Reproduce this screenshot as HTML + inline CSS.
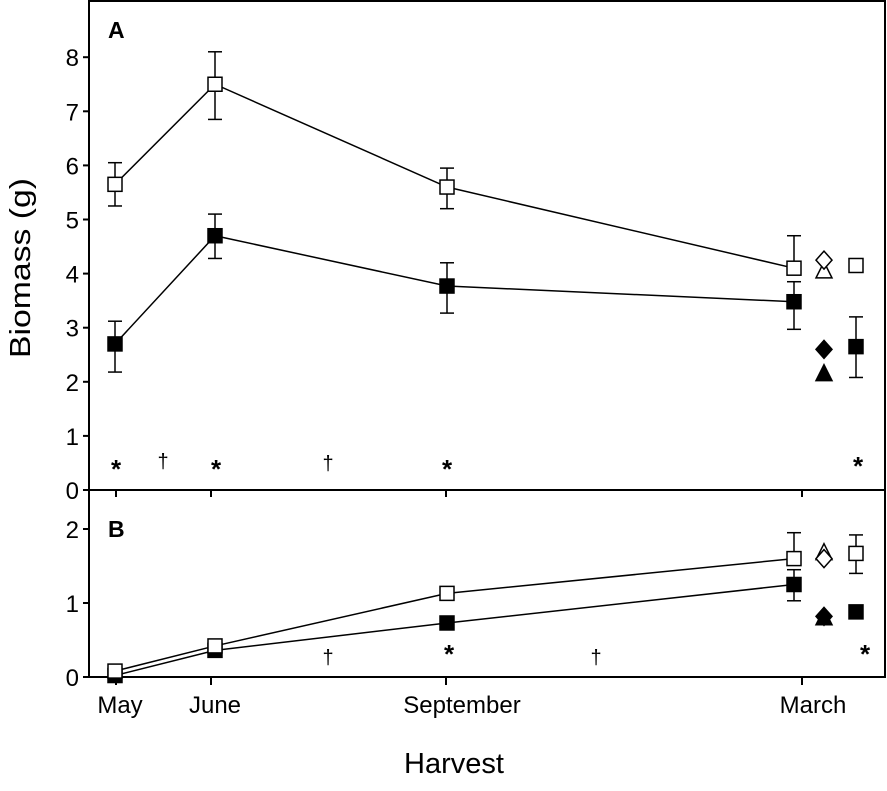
<!DOCTYPE html><html><head><style>body{margin:0;background:#fff}svg{font-family:"Liberation Sans",sans-serif}</style></head><body>
<svg width="887" height="786">
<g id="g"></g></svg>
<script>
const months=["May","June","September","March"];
const monthX=[115,215,447,794];
const aOpen=[5.65,7.5,5.6,4.1];const aOpenHi=[6.05,8.1,5.95,4.7];const aOpenLo=[5.25,6.85,5.2,4.1];
const aFill=[2.7,4.7,3.77,3.48];const aFillHi=[3.12,5.1,4.2,3.85];const aFillLo=[2.18,4.28,3.27,2.97];
const aExtraOpen=[4.25,4.05,4.15];const aExtraFill=[2.6,2.15,2.65];const aExtraFillHi=[3.2];const aExtraFillLo=[2.08];
const bOpen=[0.08,0.42,1.13,1.6];const bOpenHi=[0.08,0.42,1.18,1.95];const bOpenLo=[0.08,0.42,1.08,1.6];
const bFill=[0.02,0.36,0.73,1.25];const bFillHi=[0.02,0.36,0.73,1.45];const bFillLo=[0.02,0.36,0.73,1.03];
const bExtraOpen=[1.6,1.68,1.67];const bExtraFill=[0.82,0.8,0.88];const bExtraOpenHi=[1.92];const bExtraOpenLo=[1.4];
const aTicks=[0,1,2,3,4,5,6,7,8];const bTicks=[0,1,2];
const NS="http://www.w3.org/2000/svg",G=document.getElementById('g');
function el(t,a,name,txt){const e=document.createElementNS(NS,t);for(const k in a)e.setAttribute(k,a[k]);


if(txt!=null)e.textContent=txt;G.appendChild(e);return e;}
const yA=v=>490-54.1*v, yB=v=>677-74*v;
const X0=89,X1=885,xD=824,xS=856;
el('rect',{x:X0,y:1,width:X1-X0,height:676,fill:'none',stroke:'#000','stroke-width':2},'plot-frame');
el('line',{x1:X0,x2:X1,y1:490,y2:490,stroke:'#000','stroke-width':2},'panel-divider');
aTicks.forEach(t=>{el('line',{x1:X0-6,x2:X0,y1:yA(t),y2:yA(t),stroke:'#000','stroke-width':2},'y-tick-a');
el('text',{x:X0-10,y:yA(t)+9,'text-anchor':'end','font-size':24},'y-tick-label-a',t);});
bTicks.forEach(t=>{el('line',{x1:X0-6,x2:X0,y1:yB(t),y2:yB(t),stroke:'#000','stroke-width':2},'y-tick-b');
el('text',{x:X0-10,y:yB(t)+9,'text-anchor':'end','font-size':24},'y-tick-label-b',t);});
months.forEach((m,i)=>{const x=[116,211,446,802][i];
el('line',{x1:x,x2:x,y1:490,y2:497,stroke:'#000','stroke-width':2},'x-tick-a');
el('line',{x1:x,x2:x,y1:677,y2:685,stroke:'#000','stroke-width':2},'x-tick-b');
el('text',{x:[120,215,462,813][i],y:713,'text-anchor':'middle','font-size':24},'x-tick-label',m);});
el('text',{x:454,y:773,'text-anchor':'middle','font-size':29},'x-axis-title','Harvest');
el('text',{x:0,y:0,'text-anchor':'middle','font-size':29,textLength:180,lengthAdjust:'spacingAndGlyphs',transform:'translate(30,268) rotate(-90)'},'y-axis-title','Biomass (g)');
el('text',{x:108,y:38,'font-size':23,'font-weight':'bold'},'panel-label-a','A');
el('text',{x:108,y:537,'font-size':23,'font-weight':'bold'},'panel-label-b','B');
function line(vals,f,name){el('polyline',{points:vals.map((v,i)=>monthX[i]+','+f(v)).join(' '),fill:'none',stroke:'#000','stroke-width':1.5},name);}
function err(x,hi,lo,f,name){if(Math.abs(hi-lo)<0.01)return;el('line',{x1:x,x2:x,y1:f(hi),y2:f(lo),stroke:'#000','stroke-width':1.5},name);
[hi,lo].forEach(v=>el('line',{x1:x-7,x2:x+7,y1:f(v),y2:f(v),stroke:'#000','stroke-width':1.5},name+'-cap'));}
function sq(x,y,fill,name){el('rect',{x:x-7,y:y-7,width:14,height:14,fill:fill?'#000':'#fff',stroke:'#000','stroke-width':1.5},name);}
function dia(x,y,fill,name){el('polygon',{points:`${x},${y-9} ${x+8},${y} ${x},${y+9} ${x-8},${y}`,fill:fill?'#000':'#fff',stroke:'#000','stroke-width':1.5},name);}
function tri(x,y,fill,name){el('polygon',{points:`${x},${y-9} ${x+8},${y+7} ${x-8},${y+7}`,fill:fill?'#000':'#fff',stroke:'#000','stroke-width':1.5},name);}
// panel A
line(aOpen,yA,'line-a-open');line(aFill,yA,'line-a-filled');
aOpen.forEach((v,i)=>{err(monthX[i],aOpenHi[i],aOpenLo[i],yA,'errorbar-a-open');});
aFill.forEach((v,i)=>{err(monthX[i],aFillHi[i],aFillLo[i],yA,'errorbar-a-filled');});
aOpen.forEach((v,i)=>sq(monthX[i],yA(v),false,'point-a-open'));
aFill.forEach((v,i)=>sq(monthX[i],yA(v),true,'point-a-filled'));
tri(xD,yA(aExtraOpen[1]),false,'triangle-a-open');dia(xD,yA(aExtraOpen[0]),false,'diamond-a-open');
sq(xS,yA(aExtraOpen[2]),false,'square-a-open-extra');
err(xS,aExtraFillHi[0],aExtraFillLo[0],yA,'errorbar-a-extra');
dia(xD,yA(aExtraFill[0]),true,'diamond-a-filled');tri(xD,yA(aExtraFill[1]),true,'triangle-a-filled');
sq(xS,yA(aExtraFill[2]),true,'square-a-filled-extra');
// panel B
line(bOpen,yB,'line-b-open');line(bFill,yB,'line-b-filled');
bOpen.forEach((v,i)=>err(monthX[i],bOpenHi[i],bOpenLo[i],yB,'errorbar-b-open'));
bFill.forEach((v,i)=>err(monthX[i],bFillHi[i],bFillLo[i],yB,'errorbar-b-filled'));
bFill.forEach((v,i)=>sq(monthX[i],yB(v),true,'point-b-filled'));
bOpen.forEach((v,i)=>sq(monthX[i],yB(v),false,'point-b-open'));
err(xS,bExtraOpenHi[0],bExtraOpenLo[0],yB,'errorbar-b-extra');
tri(xD,yB(bExtraOpen[1]),false,'triangle-b-open');dia(xD,yB(bExtraOpen[0]),false,'diamond-b-open');
sq(xS,yB(bExtraOpen[2]),false,'square-b-open-extra');
tri(xD,yB(bExtraFill[1]),true,'triangle-b-filled');dia(xD,yB(bExtraFill[0]),true,'diamond-b-filled');
sq(xS,yB(bExtraFill[2]),true,'square-b-filled-extra');
// annotations
[[116,478,'*'],[216,478,'*'],[447,478,'*'],[858,475,'*'],[163,468,'†'],[328,470,'†'],[449,663,'*'],[865,663,'*'],[328,664,'†'],[596,664,'†']].forEach(a=>
el('text',{x:a[0],y:a[1],'text-anchor':'middle','font-size':a[2]=='*'?26:20,'font-weight':a[2]=='*'?'bold':'normal'},a[2]=='*'?'significance-asterisk':'significance-dagger',a[2]));
</script></body></html>
